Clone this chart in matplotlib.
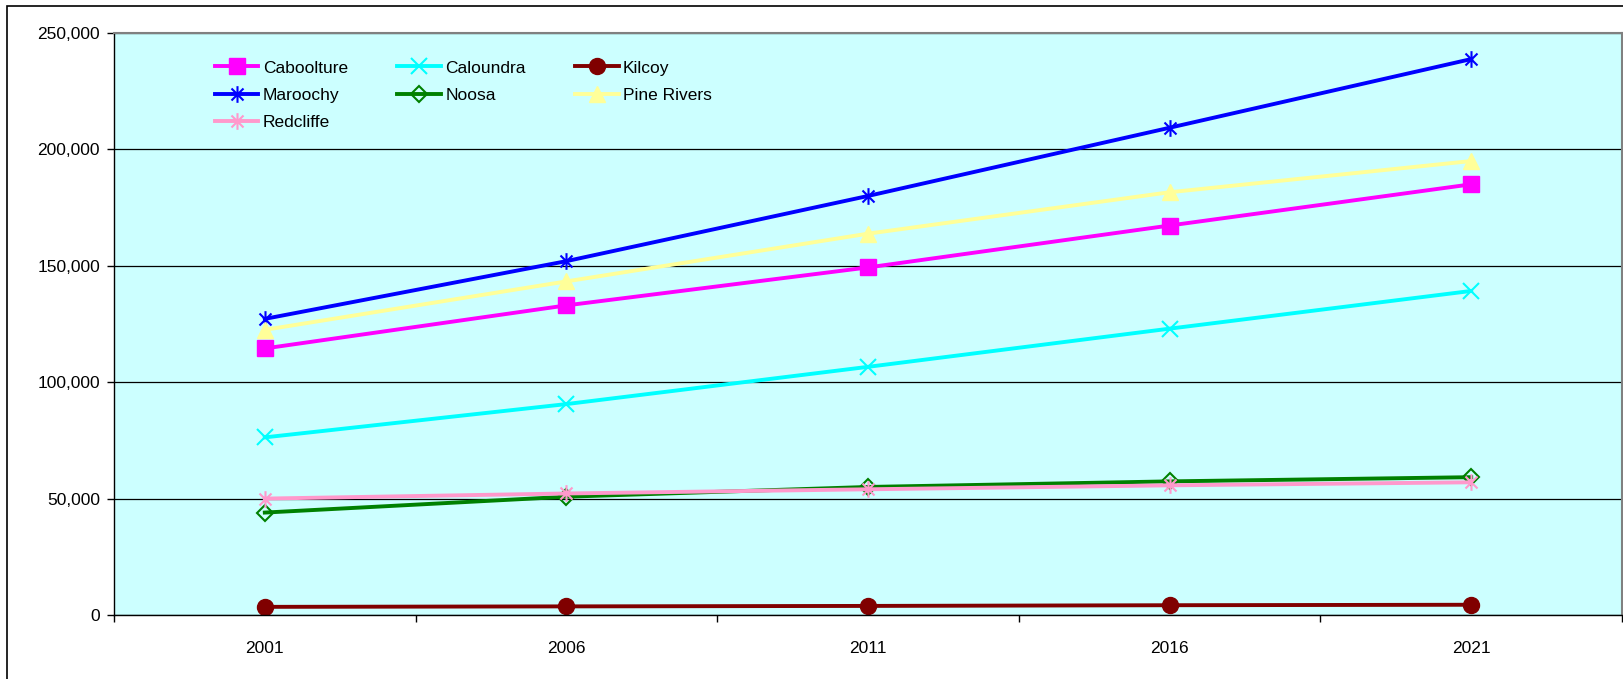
import matplotlib
matplotlib.use("Agg")
import matplotlib.pyplot as plt
from matplotlib.path import Path
from matplotlib.patches import Rectangle
from matplotlib.ticker import FuncFormatter, FixedLocator

plt.rcParams['font.family'] = ['Liberation Sans', 'DejaVu Sans']

years = ["2001", "2006", "2011", "2016", "2021"]
caboolture = [114500, 133000, 149300, 167300, 185000]
caloundra = [76300, 90600, 106600, 123000, 139200]
kilcoy = [3500, 3700, 3900, 4200, 4400]
maroochy = [127200, 152000, 180000, 209300, 238800]
noosa = [44000, 50800, 55000, 57400, 59200]
pine_rivers = [122500, 143300, 163800, 181600, 195000]
redcliffe = [50000, 52200, 54000, 55700, 57000]

star = Path([(0, -1), (0, 1), (-0.72, -0.72), (0.72, 0.72), (-0.72, 0.72), (0.72, -0.72)],
            [Path.MOVETO, Path.LINETO, Path.MOVETO, Path.LINETO, Path.MOVETO, Path.LINETO])

series = [
    ("Caboolture", caboolture, dict(color="#FF00FF", marker="s", ms=12, mfc="#FF00FF", mec="#FF00FF", mew=1)),
    ("Caloundra", caloundra, dict(color="#00FFFF", marker="x", ms=12, mec="#00FFFF", mew=1.5)),
    ("Kilcoy", kilcoy, dict(color="#800000", marker="o", ms=11.5, mfc="#800000", mec="#800000", mew=1)),
    ("Maroochy", maroochy, dict(color="#0000FF", marker=star, ms=12, mfc="none", mec="#0000FF", mew=1.5)),
    ("Noosa", noosa, dict(color="#008000", marker="D", ms=8.5, mfc="none", mec="#008000", mew=1.5)),
    ("Pine Rivers", pine_rivers, dict(color="#FFFF99", marker="^", ms=12, mfc="#FFFF99", mec="#FFFF99", mew=1)),
    ("Redcliffe", redcliffe, dict(color="#FF99CC", marker=star, ms=12, mfc="none", mec="#FF99CC", mew=1.5)),
]

fig = plt.figure(figsize=(16.24, 6.79), dpi=100)
ax = fig.add_axes([114 / 1624, (679 - 615) / 679, (1622 - 114) / 1624, (615 - 33) / 679])
ax.set_facecolor("#CCFFFF")

# outer chart border
fig.patches.append(Rectangle((7 / 1624, -0.05), 1.1, 1.05 - 6 / 679,
                             transform=fig.transFigure, fill=False, edgecolor="black",
                             linewidth=1.2, zorder=0))

x = list(range(len(years)))
handles = {}
for name, vals, st in series:
    ln, = ax.plot(x, vals, label=name, linewidth=2.8, **st)
    handles[name] = ln

ax.set_xlim(-0.5, len(years) - 0.5)
ax.set_ylim(0, 250000)
ax.set_yticks([0, 50000, 100000, 150000, 200000, 250000])
ax.yaxis.set_major_formatter(FuncFormatter(lambda v, p: f"{int(v):,}"))
ax.grid(axis="y", color="#000000", linewidth=0.9)
ax.set_axisbelow(True)

ax.set_xticks(x)
ax.set_xticklabels(years)
ax.xaxis.set_minor_locator(FixedLocator([i - 0.5 for i in range(len(years) + 1)]))
ax.tick_params(axis="x", which="major", length=0, pad=19, labelsize=12.5)
ax.tick_params(axis="x", which="minor", length=5, width=1, direction="out")
ax.tick_params(axis="y", length=5, width=1, direction="out", pad=5, labelsize=12.5)

for s in ("left", "bottom"):
    ax.spines[s].set_color("black")
    ax.spines[s].set_linewidth(1.0)
for s in ("top", "right"):
    ax.spines[s].set_color("#808080")
    ax.spines[s].set_linewidth(1.5)

# row-major legend order for 3 columns
order = ["Caboolture", "Maroochy", "Redcliffe", "Caloundra", "Noosa", "Kilcoy", "Pine Rivers"]
leg = ax.legend([handles[n] for n in order], order,
                loc="upper left", bbox_to_anchor=(0.067, 0.953), ncol=3, frameon=False,
                fontsize=12.5, handlelength=2.5, handletextpad=0.25, columnspacing=2.85,
                labelspacing=0.7, borderpad=0, borderaxespad=0)

fig.savefig("out.png", dpi=100)
